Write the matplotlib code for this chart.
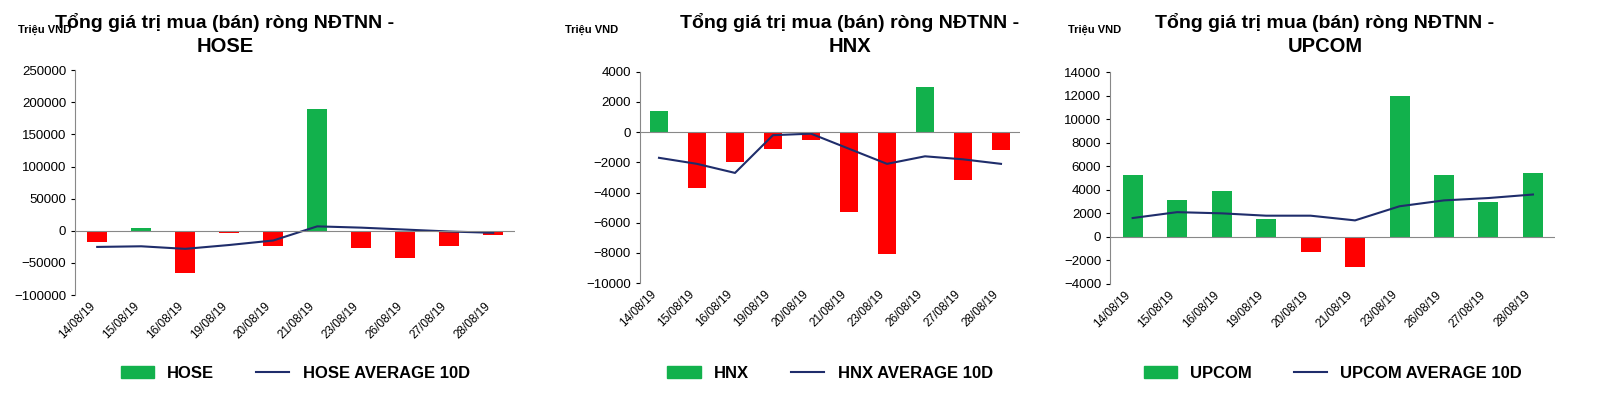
import matplotlib
matplotlib.use("Agg")
import matplotlib.pyplot as plt
from matplotlib.patches import Patch
from matplotlib.lines import Line2D

dates = ["14/08/19","15/08/19","16/08/19","19/08/19","20/08/19","21/08/19","23/08/19","26/08/19","27/08/19","28/08/19"]
hose = [-17000, 5000, -65000, -3000, -23000, 190000, -27000, -42000, -23000, -7000]
hose_avg = [-25000, -24000, -28000, -22000, -15000, 7000, 5000, 2000, -1000, -3000]
hnx = [1400, -3700, -2000, -1100, -500, -5300, -8100, 3000, -3200, -1200]
hnx_avg = [-1700, -2100, -2700, -200, -100, -1100, -2100, -1600, -1800, -2100]
upcom = [5300, 3100, 3900, 1500, -1300, -2600, 12000, 5300, 3000, 5400]
upcom_avg = [1600, 2100, 2000, 1800, 1800, 1400, 2600, 3100, 3300, 3600]

GREEN = "#12b14c"; RED = "#ff0000"; NAVY = "#1f2d6b"
plt.rcParams["font.family"] = "Liberation Sans"
fig = plt.figure(figsize=(16, 4.01), dpi=100)

panels = [
    ("HOSE", hose, hose_avg, [0.047, 0.264, 0.275, 0.561], (-100000, 250000), 50000, 225, 18),
    ("HNX", hnx, hnx_avg, [0.40, 0.294, 0.2375, 0.527], (-10000, 4000), 2000, 850, 565),
    ("UPCOM", upcom, upcom_avg, [0.694, 0.292, 0.278, 0.528], (-4000, 14000), 2000, 1325, 1068),
]
for name, vals, avg, pos, ylim, step, tx, lx in panels:
    ax = fig.add_axes(pos)
    x = range(len(dates))
    ax.bar(x, vals, width=0.45, color=[GREEN if v >= 0 else RED for v in vals])
    ax.plot(x, avg, color=NAVY, lw=1.5)
    ax.set_ylim(*ylim)
    ax.set_yticks(range(ylim[0], ylim[1] + 1, step))
    ax.set_xlim(-0.5, len(dates) - 0.5)
    ax.axhline(0, color="#888888", lw=0.8)
    ax.set_xticks(list(x))
    ax.set_xticklabels(dates, rotation=45, ha="right", fontsize=8.5)
    ax.tick_params(axis="y", labelsize=9.5, length=3)
    ax.tick_params(axis="x", length=0)
    for s in ["top", "right", "bottom"]:
        ax.spines[s].set_visible(False)
    ax.spines["left"].set_color("#888888")
    fig.text(tx / 1600, 1 - 22 / 401, "Tổng giá trị mua (bán) ròng NĐTNN -", ha="center", va="center",
             fontsize=14, fontweight="bold")
    fig.text(tx / 1600, 1 - 46 / 401, name, ha="center", va="center", fontsize=14.5, fontweight="bold")
    fig.text(lx / 1600, 1 - 30 / 401, "Triệu VND", fontsize=8, fontweight="bold", va="center")
    fig.legend(handles=[Patch(color=GREEN, label=name), Line2D([0], [0], color=NAVY, lw=1.5, label=name + " AVERAGE 10D")],
               loc="center", bbox_to_anchor=(pos[0] + pos[2] / 2, 1 - 373 / 401), ncol=2, frameon=False,
               prop={"weight": "bold", "size": 12}, columnspacing=2.5)
fig.savefig("out.png")
